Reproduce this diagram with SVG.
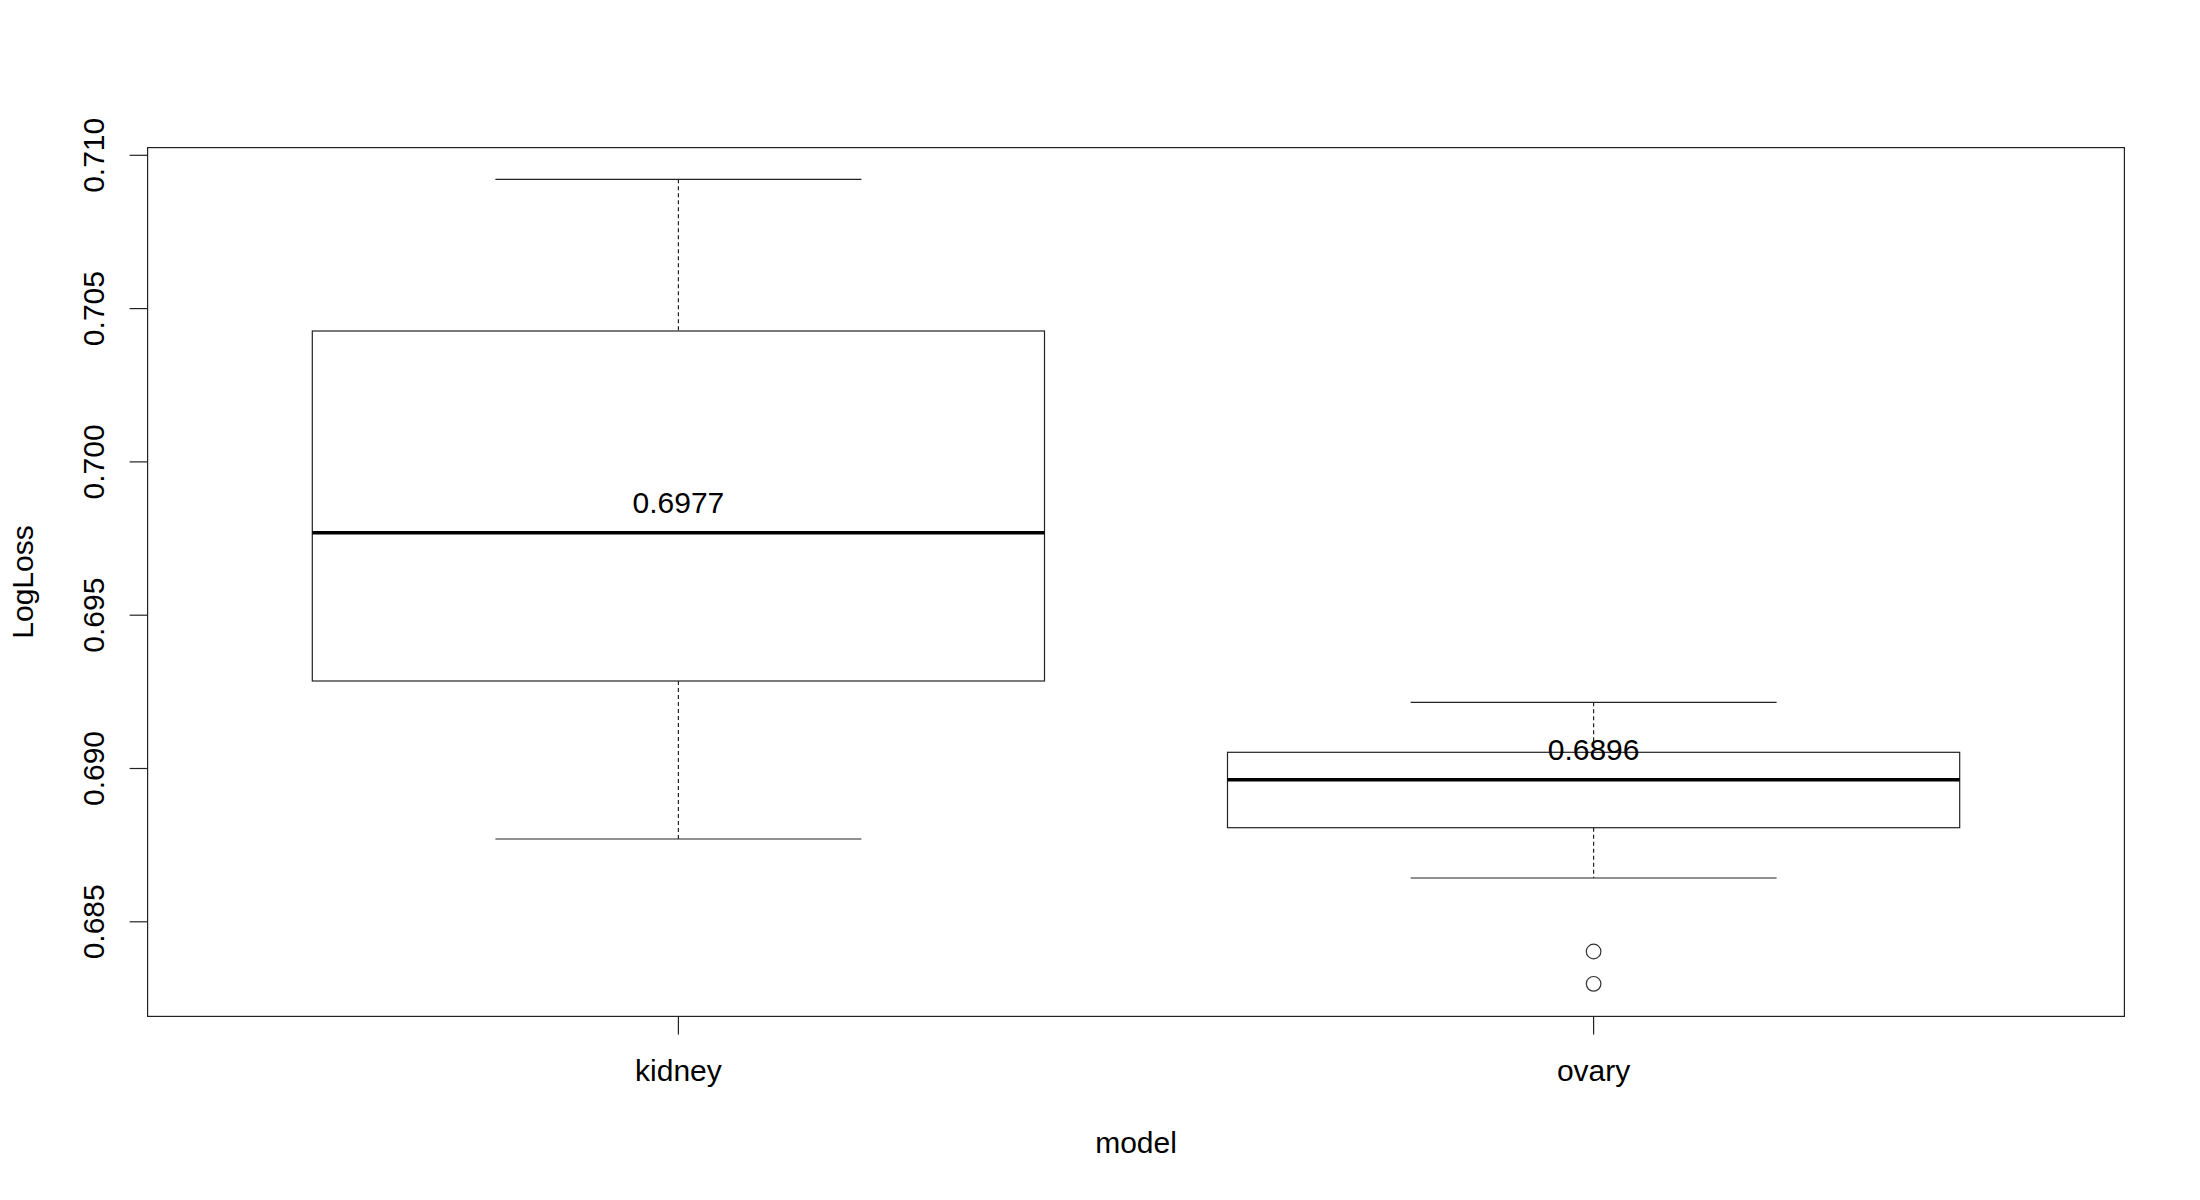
<svg xmlns="http://www.w3.org/2000/svg" width="2200" height="1200" viewBox="0 0 2200 1200">
<style>
  .ln { stroke: #222; stroke-width: 1.2; fill: none; }
  .dash { stroke: #222; stroke-width: 1.2; fill: none; stroke-dasharray: 4 3; }
  .med { stroke: #000; stroke-width: 3.4; fill: none; }
  .box { stroke: #222; stroke-width: 1.2; fill: #fff; }
  .pt { stroke: #333; stroke-width: 1.2; fill: none; }
  text { font-family: "Liberation Sans", Arial, sans-serif; font-size: 30px; fill: #000; }
  .mid { text-anchor: middle; }
</style>
<rect x="0" y="0" width="2200" height="1200" fill="#fff"/>

<g id="connectors">
  <!-- kidney whiskers -->
  <line class="dash" x1="678.4" y1="179.3" x2="678.4" y2="331"/>
  <line class="dash" x1="678.4" y1="681" x2="678.4" y2="839"/>
  <line class="ln" x1="495.4" y1="179.3" x2="861.4" y2="179.3"/>
  <line class="ln" x1="495.4" y1="839" x2="861.4" y2="839"/>
  <!-- ovary whiskers -->
  <line class="dash" x1="1593.6" y1="702.3" x2="1593.6" y2="752.3"/>
  <line class="dash" x1="1593.6" y1="827.7" x2="1593.6" y2="878"/>
  <line class="ln" x1="1410.6" y1="702.3" x2="1776.6" y2="702.3"/>
  <line class="ln" x1="1410.6" y1="878" x2="1776.6" y2="878"/>
</g>

<g id="kidney">
  <rect class="box" x="312.3" y="331" width="732.2" height="350"/>
  <line class="med" x1="312.3" y1="532.7" x2="1044.5" y2="532.7"/>
  <text class="mid" x="678.4" y="513.3">0.6977</text>
</g>

<g id="ovary">
  <rect class="box" x="1227.5" y="752.3" width="732.2" height="75.4"/>
  <line class="med" x1="1227.5" y1="779.7" x2="1959.7" y2="779.7"/>
  <circle class="pt" cx="1593.6" cy="951.5" r="7.3"/>
  <circle class="pt" cx="1593.6" cy="983.8" r="7.3"/>
  <text class="mid" x="1593.6" y="759.5">0.6896</text>
</g>

<g id="axes">
  <rect class="ln" x="147.6" y="147.6" width="1976.8" height="868.8"/>
  <!-- y ticks -->
  <line class="ln" x1="129.6" y1="155.3" x2="147.6" y2="155.3"/>
  <line class="ln" x1="129.6" y1="308.6" x2="147.6" y2="308.6"/>
  <line class="ln" x1="129.6" y1="461.9" x2="147.6" y2="461.9"/>
  <line class="ln" x1="129.6" y1="615.2" x2="147.6" y2="615.2"/>
  <line class="ln" x1="129.6" y1="768.5" x2="147.6" y2="768.5"/>
  <line class="ln" x1="129.6" y1="921.8" x2="147.6" y2="921.8"/>
  <text class="mid" transform="translate(104,155.3) rotate(-90)">0.710</text>
  <text class="mid" transform="translate(104,308.6) rotate(-90)">0.705</text>
  <text class="mid" transform="translate(104,461.9) rotate(-90)">0.700</text>
  <text class="mid" transform="translate(104,615.2) rotate(-90)">0.695</text>
  <text class="mid" transform="translate(104,768.5) rotate(-90)">0.690</text>
  <text class="mid" transform="translate(104,921.8) rotate(-90)">0.685</text>
  <!-- x ticks -->
  <line class="ln" x1="678.4" y1="1016.4" x2="678.4" y2="1034.4"/>
  <line class="ln" x1="1593.6" y1="1016.4" x2="1593.6" y2="1034.4"/>
  <text class="mid" x="678.4" y="1081">kidney</text>
  <text class="mid" x="1593.6" y="1081">ovary</text>
  <text class="mid" x="1136" y="1152.7">model</text>
  <text class="mid" transform="translate(33.3,582) rotate(-90)">LogLoss</text>
</g>
</svg>
